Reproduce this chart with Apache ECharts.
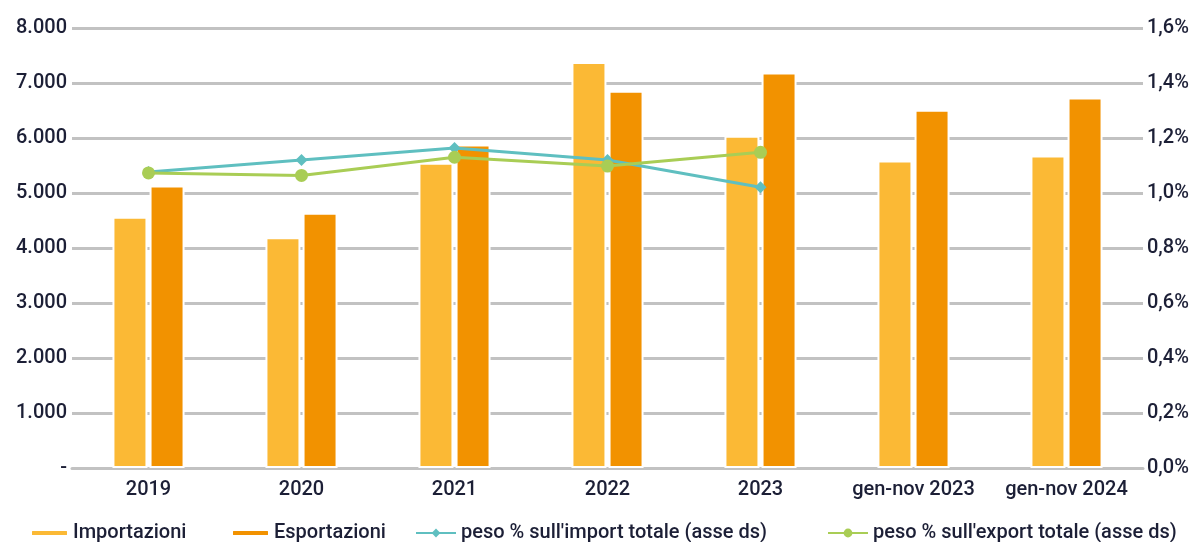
<!DOCTYPE html>
<html>
<head>
<meta charset="utf-8">
<script src="https://cdn.jsdelivr.net/npm/echarts@6/dist/echarts.min.js"></script>
<style>
  html, body { margin: 0; padding: 0; background: #fff; }
  #chart { width: 1196px; height: 542px; }
</style>
</head>
<body>
<div id="chart"></div>
<script>
// categorie
const categorie = ['2019', '2020', '2021', '2022', '2023', 'gen-nov 2023', 'gen-nov 2024']
// valori (asse sx)
const importazioni = [4570, 4195, 5550, 7380, 6040, 5590, 5680]
const esportazioni = [5135, 4640, 5880, 6860, 7190, 6515, 6735]
// peso % (asse ds), solo anni interi
const pesoImport = [1.076, 1.120, 1.164, 1.120, 1.021, null, null]
const pesoExport = [1.073, 1.064, 1.130, 1.098, 1.148, null, null]

const testo = '#1c1f36'
const font = 'Roboto'

function formatMigliaia(v) {
  if (v === 0) return '-'
  return String(v).replace(/\B(?=(\d{3})+(?!\d))/g, '.')
}

let chartDom = document.getElementById('chart')
let myChart = echarts.init(chartDom)

let legendaBase = {
  top: 523,
  padding: 0,
  textStyle: { color: testo, fontSize: 20, fontFamily: font, fontWeight: 500 },
  itemHeight: 6,
  selectedMode: false
}

let option = {
  animation: false,
  grid: { left: 72, right: 53, top: 28, bottom: 74 },
  legend: [
    Object.assign({}, legendaBase, { left: 30, itemWidth: 37, data: ['Importazioni'] }),
    Object.assign({}, legendaBase, { left: 231, itemWidth: 37, data: ['Esportazioni'] }),
    Object.assign({}, legendaBase, { left: 415, itemWidth: 40, itemHeight: 11, data: ["peso % sull'import totale (asse ds)"] }),
    Object.assign({}, legendaBase, { left: 827, itemWidth: 40, itemHeight: 11, data: ["peso % sull'export totale (asse ds)"] })
  ],
  xAxis: {
    type: 'category',
    data: categorie,
    axisTick: { show: false },
    axisLine: { lineStyle: { color: '#c2c2c2', width: 3 } },
    axisLabel: { color: testo, fontSize: 20, fontFamily: font, fontWeight: 500, margin: 12, interval: 0 }
  },
  yAxis: [
    {
      type: 'value',
      min: 0,
      max: 8000,
      interval: 1000,
      axisLine: { show: false },
      axisTick: { show: false },
      splitLine: { lineStyle: { color: '#c2c2c2', width: 3 } },
      axisLabel: { color: testo, fontSize: 20, fontFamily: font, fontWeight: 500, margin: 5, formatter: formatMigliaia }
    },
    {
      type: 'value',
      min: 0,
      max: 1.6,
      interval: 0.2,
      axisLine: { show: false },
      axisTick: { show: false },
      splitLine: { show: false },
      axisLabel: {
        color: testo, fontSize: 20, fontFamily: font, fontWeight: 500, margin: 4,
        formatter: function (v) { return v.toFixed(1).replace('.', ',') + '%' }
      }
    }
  ],
  series: [
    {
      name: 'Importazioni',
      type: 'bar',
      data: importazioni,
      barWidth: 35,
      barGap: '6%',
      itemStyle: { color: '#fbb935', borderColor: '#fff', borderWidth: 2 }
    },
    {
      name: 'Esportazioni',
      type: 'bar',
      data: esportazioni,
      barWidth: 35,
      itemStyle: { color: '#f29200', borderColor: '#fff', borderWidth: 2 }
    },
    {
      name: "peso % sull'import totale (asse ds)",
      type: 'line',
      yAxisIndex: 1,
      data: pesoImport,
      symbol: 'diamond',
      symbolSize: 12,
      showSymbol: true,
      lineStyle: { color: '#5fbfc0', width: 3 },
      itemStyle: { color: '#5fbfc0' },
      z: 5
    },
    {
      name: "peso % sull'export totale (asse ds)",
      type: 'line',
      yAxisIndex: 1,
      data: pesoExport,
      symbol: 'circle',
      symbolSize: 13,
      showSymbol: true,
      lineStyle: { color: '#a9cd55', width: 3 },
      itemStyle: { color: '#a9cd55' },
      z: 6
    }
  ]
}
myChart.setOption(option)
</script>
</body>
</html>
